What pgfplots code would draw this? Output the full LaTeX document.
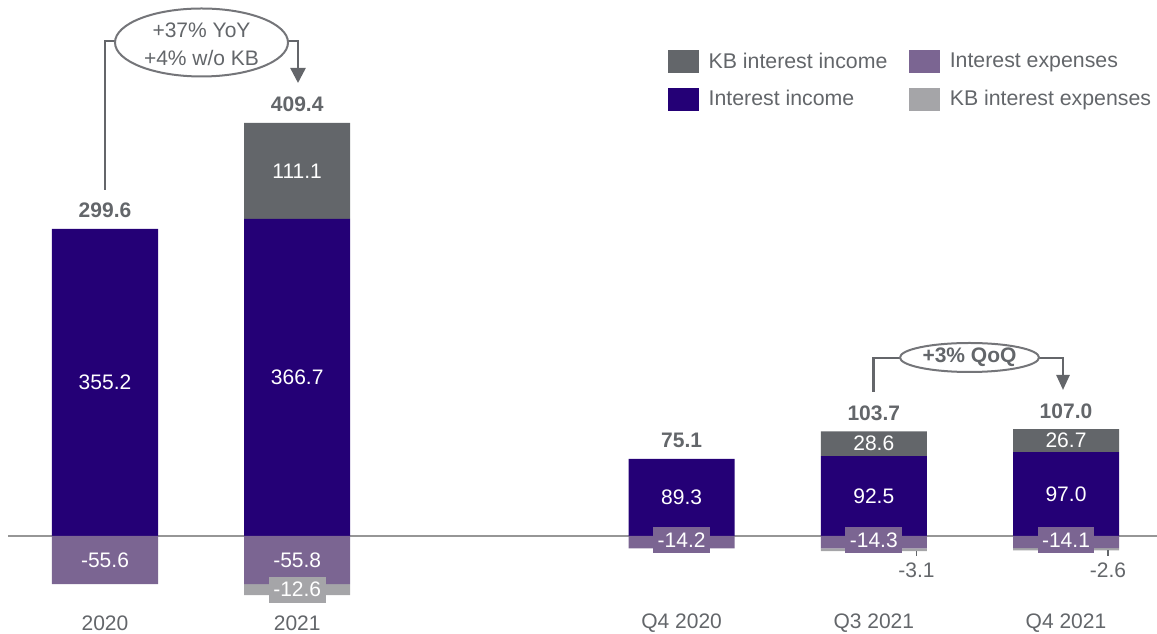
\documentclass[border=0pt]{standalone}
\usepackage{pgfplots}
\pgfplotsset{compat=1.18}
\usepackage{fontspec}
\setmainfont{Liberation Sans}
\usetikzlibrary{arrows.meta}
\definecolor{navy}{RGB}{36,0,118}
\definecolor{kbgrey}{RGB}{99,102,106}
\definecolor{expurple}{RGB}{123,101,146}
\definecolor{kblight}{RGB}{165,165,168}
\definecolor{txtgrey}{RGB}{99,102,106}
\definecolor{zerogrey}{RGB}{150,150,150}
\definecolor{conngrey}{RGB}{100,102,106}
\newcommand{\fs}{\fontsize{21}{25}\selectfont}
\newcommand{\fsl}{\fontsize{21.3}{25}\selectfont}

\pgfplotsset{
  base/.style={
    scale only axis, width=1157pt, height=634pt,
    at={(0pt,0pt)}, anchor=south west,
    xmin=-0.5463, xmax=5.4735, ymin=-113.36, ymax=620.0,
    enlargelimits=false,
    ybar stacked, bar width=106pt,
    axis line style={draw=none},
    ytick=\empty,
    major tick length=0pt,
    clip=false,
  },
}
\tikzset{
  lbl/.style={font=\fs, text=white, inner sep=0pt},
  tot/.style={font=\fs\bfseries, text=txtgrey, anchor=base, inner sep=0pt, yshift=11pt},
  box/.style={font=\fs, text=white, inner xsep=4.5pt, inner ysep=0pt, minimum height=26pt},
}
\begin{document}
\begin{tikzpicture}
\path[use as bounding box] (0pt,0pt) rectangle (1157pt,634pt);
\draw[zerogrey, line width=2pt] (8pt,98pt) -- (1157pt,98pt);

% positive stack
\begin{axis}[base,
  xtick={0,1,3,4,5}, xticklabels={2020,2021,Q4 2020,Q3 2021,Q4 2021},
  xticklabel style={font=\fs, text=txtgrey, anchor=center, inner sep=0pt, yshift=11pt},
]
\addplot[fill=navy, draw=none] coordinates {(0,355.2) (1,366.7) (3,89.3) (4,92.5) (5,97.0)};
\addplot[fill=kbgrey, draw=none] coordinates {(0,0) (1,111.1) (3,0) (4,28.6) (5,26.7)};
\end{axis}

% negative stack
\begin{axis}[base,
  xtick=\empty,
  legend columns=2,
  legend cell align=left,
  legend style={at={(axis description cs:0.5774,0.9211)}, anchor=north west,
    draw=none, fill=none, font=\fsl, text=txtgrey, inner sep=0pt, row sep=15pt,
    nodes={inner xsep=10pt, inner ysep=0pt},
    /tikz/every even column/.append style={column sep=12pt}},
]
\addlegendimage{legend image code/.code={\fill[kbgrey] (0pt,-11pt) rectangle (30pt,11pt);}}
\addlegendentry{KB interest income}
\addlegendimage{legend image code/.code={\fill[expurple] (0pt,-11pt) rectangle (30pt,11pt);}}
\addlegendentry{Interest expenses}
\addlegendimage{legend image code/.code={\fill[navy] (0pt,-11pt) rectangle (30pt,11pt);}}
\addlegendentry{Interest income}
\addlegendimage{legend image code/.code={\fill[kblight] (0pt,-11pt) rectangle (30pt,11pt);}}
\addlegendentry{KB interest expenses}
\addplot[fill=expurple, draw=none, forget plot] coordinates {(0,-55.6) (1,-55.8) (3,-14.2) (4,-14.3) (5,-14.1)};
\addplot[fill=kblight, draw=none, forget plot] coordinates {(0,0) (1,-12.6) (3,0) (4,-3.1) (5,-2.6)};
\end{axis}

% labels on top of all bars
\begin{axis}[base, xtick=\empty, hide axis]
\node[lbl] at (axis cs:0,177.6) {355.2};
\node[lbl] at (axis cs:1,183.35) {366.7};
\node[lbl] at (axis cs:1,422.25) {111.1};
\node[lbl] at (axis cs:3,44.65) {89.3};
\node[lbl] at (axis cs:4,46.25) {92.5};
\node[lbl] at (axis cs:4,106.8) {28.6};
\node[lbl] at (axis cs:5,48.5) {97.0};
\node[lbl] at (axis cs:5,110.35) {26.7};
\node[tot] at (axis cs:0,355.2) {299.6};
\node[tot] at (axis cs:1,477.8) {409.4};
\node[tot] at (axis cs:3,89.3) {75.1};
\node[tot] at (axis cs:4,121.1) {103.7};
\node[tot] at (axis cs:5,123.7) {107.0};
\node[lbl] at (axis cs:0,-27.8) {-55.6};
\node[lbl] at (axis cs:1,-27.9) {-55.8};
\node[box, fill=kblight] at (axis cs:1,-62.1) {-12.6};
\node[box, fill=expurple] at (axis cs:3,-5) {-14.2};
\node[box, fill=expurple] at (axis cs:4,-5) {-14.3};
\node[box, fill=expurple] at (axis cs:5,-5) {-14.1};
\draw[txtgrey, line width=1.2pt] (axis cs:4.222,-17.4) -- (axis cs:4.222,-23.5);
\draw[txtgrey, line width=1.2pt] (axis cs:5.2185,-16.7) -- (axis cs:5.2185,-23.5);
\node[font=\fs, text=txtgrey, inner sep=0pt] at (axis cs:4.222,-39.3) {-3.1};
\node[font=\fs, text=txtgrey, inner sep=0pt] at (axis cs:5.2185,-39.3) {-2.6};
\end{axis}

% YoY annotation
\draw[conngrey, line width=2.5pt] (105pt,444pt) -- (105pt,593pt) -- (115pt,593pt);
\draw[conngrey, line width=2.5pt, -{Triangle[width=15pt,length=15pt]}] (287pt,593pt) -- (298pt,593pt) -- (298pt,551pt);
\draw[conngrey!90, line width=2pt, fill=white] (201.5pt,591.5pt) ellipse [x radius=86.5pt, y radius=34pt];
\node[font=\fs, text=txtgrey, inner sep=0pt] at (201.5pt,604pt) {+37\% YoY};
\node[font=\fs, text=txtgrey, inner sep=0pt] at (201.5pt,576pt) {+4\% w/o KB};

% QoQ annotation
\draw[conngrey, line width=2.5pt] (873.5pt,242pt) -- (873.5pt,276pt) -- (900pt,276pt);
\draw[conngrey, line width=2.5pt, -{Triangle[width=13pt,length=15pt]}] (1038pt,276pt) -- (1063pt,276pt) -- (1063pt,244pt);
\draw[conngrey!90, line width=2pt, fill=white] (969.5pt,276.5pt) ellipse [x radius=69.5pt, y radius=14.5pt];
\node[font=\fs\bfseries, text=txtgrey, inner sep=0pt] at (969.5pt,276.5pt) {+3\% QoQ};
\end{tikzpicture}
\end{document}
